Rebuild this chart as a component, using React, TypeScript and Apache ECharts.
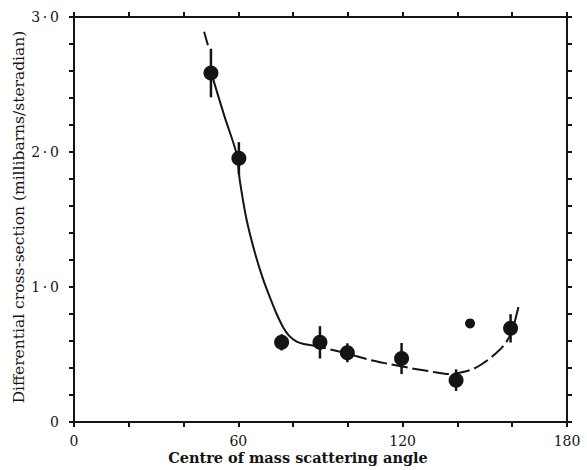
import React, { useEffect, useRef } from "react";
import * as echarts from "echarts";

const angles = [50, 60.2, 75.8, 89.8, 99.8, 119.6, 139.5, 159.4];
const crossSections = [2.585, 1.953, 0.59, 0.59, 0.513, 0.47, 0.31, 0.694];
const errors = [0.18, 0.12, 0.06, 0.12, 0.07, 0.115, 0.08, 0.105];
const extraPoint = [[144.6, 0.73]];
const fitTopDash = [[47.5, 2.89], [48.9, 2.79]];
const fitSolid = [
  [50.5, 2.56], [55, 2.26], [59.3, 1.99], [60.6, 1.78], [63, 1.5], [66.1, 1.25],
  [69, 1.06], [71.6, 0.92], [74, 0.8], [76.4, 0.7], [78.5, 0.64], [81.3, 0.595],
  [84, 0.578], [86.2, 0.57],
];
const fitDashed = [
  [86.2, 0.57], [92, 0.545], [100, 0.505], [108, 0.46], [115, 0.43], [122.7, 0.4],
  [130, 0.375], [136.7, 0.355], [142.1, 0.37], [146, 0.395], [149.4, 0.435],
  [153, 0.49], [157.4, 0.58], [160, 0.68], [162.6, 0.88],
];
const xTickLabels = [0, 60, 120, 180];
const yTickLabels = [0, 1, 2, 3];

const INK = "#141414";
const SERIF = "'DejaVu Serif', 'Liberation Serif', serif";

export default function App() {
  const ref = useRef<HTMLDivElement>(null);
  useEffect(() => {
    if (!ref.current) return;
    const chart = echarts.init(ref.current, undefined, { renderer: "svg" });
    const fmtY = (v: number) => {
      const r = Math.round(v * 10) / 10;
      if (!yTickLabels.some((t) => Math.abs(t - r) < 1e-6)) return "";
      return r === 0 ? "0" : r.toFixed(1).replace(".", "\u2009·\u2009");
    };
    const fmtX = (v: number) => (xTickLabels.includes(Math.round(v)) ? String(Math.round(v)) : "");
    const axisCommon = {
      type: "value" as const,
      splitLine: { show: false },
      axisLine: { show: true, onZero: false, lineStyle: { color: INK, width: 2 } },
      axisTick: { show: true, inside: false, length: 5, lineStyle: { color: INK, width: 2 } },
    };
    const errData = angles.map((a, i) => [a, crossSections[i] - errors[i], crossSections[i] + errors[i]]);
    chart.setOption({
      animation: false,
      backgroundColor: "#ffffff",
      grid: { left: 74, right: 20, top: 17, bottom: 48 },
      xAxis: [
        {
          ...axisCommon,
          position: "bottom",
          min: 0,
          max: 180,
          interval: 20,
          axisLabel: {
            formatter: fmtX,
            color: INK,
            fontFamily: SERIF,
            fontSize: 14,
            margin: 12,
            showMinLabel: true,
            showMaxLabel: true,
          },
        },
        {
          ...axisCommon,
          position: "top",
          min: 0,
          max: 180,
          interval: 20,
          axisLabel: { show: false },
        },
      ],
      yAxis: [
        {
          ...axisCommon,
          position: "left",
          min: 0,
          max: 3,
          interval: 0.2,
          axisLabel: {
            formatter: fmtY,
            color: INK,
            fontFamily: SERIF,
            fontSize: 14,
            margin: 15,
            showMinLabel: true,
            showMaxLabel: true,
          },
        },
        {
          ...axisCommon,
          position: "right",
          min: 0,
          max: 3,
          interval: 0.2,
          axisLabel: { show: false },
        },
      ],
      graphic: [
        {
          type: "text",
          x: 298,
          y: 457,
          style: {
            text: "Centre of mass scattering angle",
            font: `bold 14.5px ${SERIF}`,
            fill: INK,
            textAlign: "center",
            textVerticalAlign: "middle",
          },
        },
        {
          type: "text",
          x: 19,
          y: 217,
          rotation: Math.PI / 2,
          style: {
            text: "Differential cross-section (millibarns/steradian)",
            font: `15.5px ${SERIF}`,
            fill: INK,
            textAlign: "center",
            textVerticalAlign: "middle",
          },
        },
      ],
      series: [
        {
          type: "line",
          data: fitTopDash,
          symbol: "none",
          lineStyle: { color: INK, width: 2 },
          silent: true,
        },
        {
          type: "line",
          data: fitSolid,
          symbol: "none",
          smooth: 0.3,
          lineStyle: { color: INK, width: 2 },
          silent: true,
        },
        {
          type: "line",
          data: fitDashed,
          symbol: "none",
          smooth: 0.3,
          lineStyle: { color: INK, width: 2, type: [16, 5] },
          silent: true,
        },
        {
          type: "custom",
          data: errData,
          renderItem: (params: any, api: any) => {
            const top = api.coord([api.value(0), api.value(2)]);
            const bot = api.coord([api.value(0), api.value(1)]);
            return {
              type: "line",
              shape: { x1: top[0], y1: top[1], x2: bot[0], y2: bot[1] },
              style: { stroke: INK, lineWidth: 2.5 },
            };
          },
          silent: true,
        },
        {
          type: "scatter",
          data: angles.map((a, i) => [a, crossSections[i]]),
          symbol: "circle",
          symbolSize: 15,
          itemStyle: { color: INK, opacity: 1 },
          silent: true,
        },
        {
          type: "scatter",
          data: extraPoint,
          symbol: "circle",
          symbolSize: 10,
          itemStyle: { color: INK, opacity: 1 },
          silent: true,
        },
      ],
    });
    return () => chart.dispose();
  }, []);
  return <div ref={ref} style={{ width: 587, height: 470, position: "absolute", left: 0, top: 0 }} />;
}
